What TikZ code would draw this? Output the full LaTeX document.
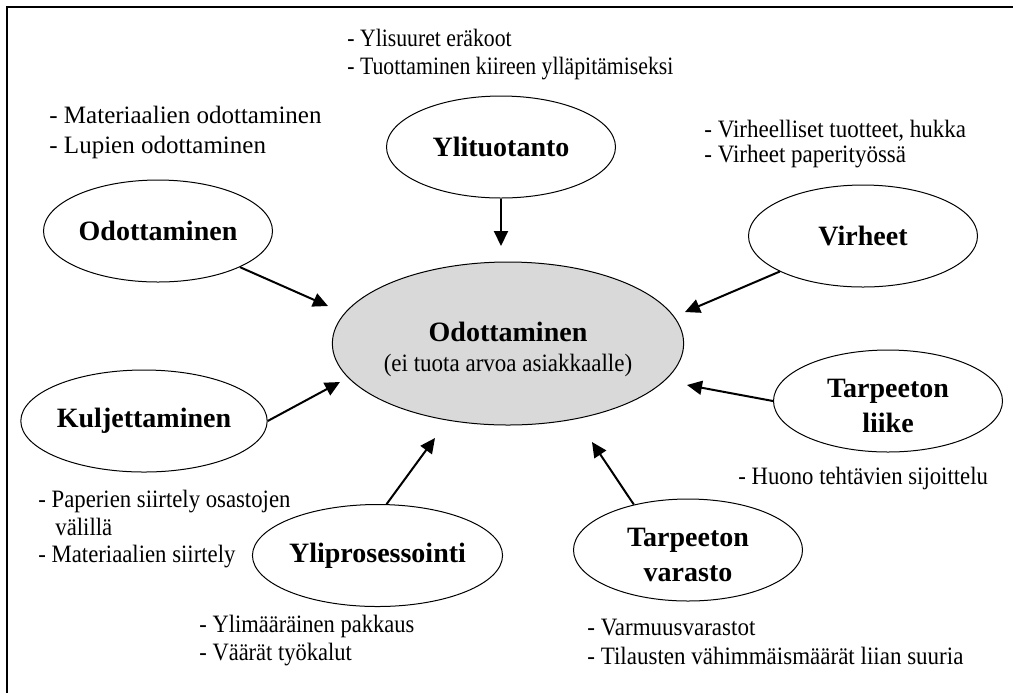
\documentclass[tikz,border=0pt]{standalone}
\usepackage{fontspec}
\setmainfont{Liberation Serif}
\usetikzlibrary{arrows.meta,shapes.geometric,positioning}

\begin{document}
\begin{tikzpicture}[
    x=0.5pt,
    y=-0.5pt,
    every node/.style={font=\fontsize{12.5}{14}\selectfont},
    waste/.style={ellipse, draw, line width=0.5pt, fill=white, minimum width=114.5pt, minimum height=51pt, inner sep=0pt, align=center, font=\fontsize{14}{17.5}\selectfont\bfseries},
    hub/.style={ellipse, draw, line width=0.5pt, fill=black!15, minimum width=173.5pt, minimum height=81.5pt, inner sep=0pt, align=center},
    remark/.style={anchor=west, align=left, inner sep=0pt, font=\fontsize{12.5}{14}\selectfont\addfontfeatures{FakeStretch=#1}},
    remark/.default=0.91,
    feed/.style={-{Triangle[length=7.5pt, width=7pt]}, line width=1pt}
  ]
  \useasboundingbox (0,0) rectangle (1013,693);
  %
  \draw[line width=1pt] (7,693) -- (7,7) -- (1013,7);

  %
  \node[hub] (hub) at (508,343.5) {\rule{0pt}{16pt}{\fontsize{14}{15}\selectfont\bfseries Odottaminen}\\[1pt]{\addfontfeatures{FakeStretch=0.92}(ei tuota arvoa asiakkaalle)}};

  \node[waste] (ylit) at (501,147) {Ylituotanto};
  \node[waste] (odot) at (158,231) {Odottaminen};
  \node[waste] (virh) at (863,236) {Virheet};
  \node[waste] (kulj) at (144,421) {Kuljettaminen};
  \node[waste] (liike) at (888,401) {\rule{0pt}{14pt}Tarpeeton\\liike};
  \node[waste] (ylipr) at (377.5,555.5) {Yliprosessointi};
  \node[waste] (varasto) at (688,550) {\rule{0pt}{14pt}Tarpeeton\\varasto};

  %
  \coordinate (tYlit) at (501,246);
  \coordinate (tOdot) at (328,306);
  \coordinate (tVirh) at (685,312);
  \coordinate (tKulj) at (340,382);
  \coordinate (tLiike) at (687,385);
  \coordinate (tYlipr) at (435,438);
  \coordinate (tVar) at (592,442);

  \draw[feed] (ylit) -- (tYlit);
  \draw[feed] (odot) -- (tOdot);
  \draw[feed] (virh) -- (tVirh);
  \draw[feed] (kulj.east) -- (tKulj);
  \draw[feed] (liike.west) -- (tLiike);
  \draw[feed] (ylipr.80) -- (tYlipr);
  \draw[feed] (varasto.140) -- (tVar);

  %
  \node[remark=0.87] (rYlit) at (347,55) {- Ylisuuret eräkoot\\- Tuottaminen kiireen ylläpitämiseksi};
  \node[remark=1] (rOdot) at (49,132) {- Materiaalien odottaminen\\[1pt]- Lupien odottaminen};
  \node[remark=0.92] (rVirh) at (704,144.5) {- Virheelliset tuotteet, hukka\\[-1.5pt]- Virheet paperityössä};
  \node[remark] (rLiike) at (738,478) {- Huono tehtävien sijoittelu};
  \node[remark] (rKulj) at (38,529.5) {- Paperien siirtely osastojen\\[-0.25pt]\hspace*{8.5pt}välillä\\[-0.25pt]- Materiaalien siirtely};
  \node[remark=0.9] (rYlipr) at (199,641) {- Ylimääräinen pakkaus\\- Väärät työkalut};
  \node[remark=0.92] (rVar) at (587,641.5) {- Varmuusvarastot\\[0.5pt]- Tilausten vähimmäismäärät liian suuria};
\end{tikzpicture}
\end{document}
